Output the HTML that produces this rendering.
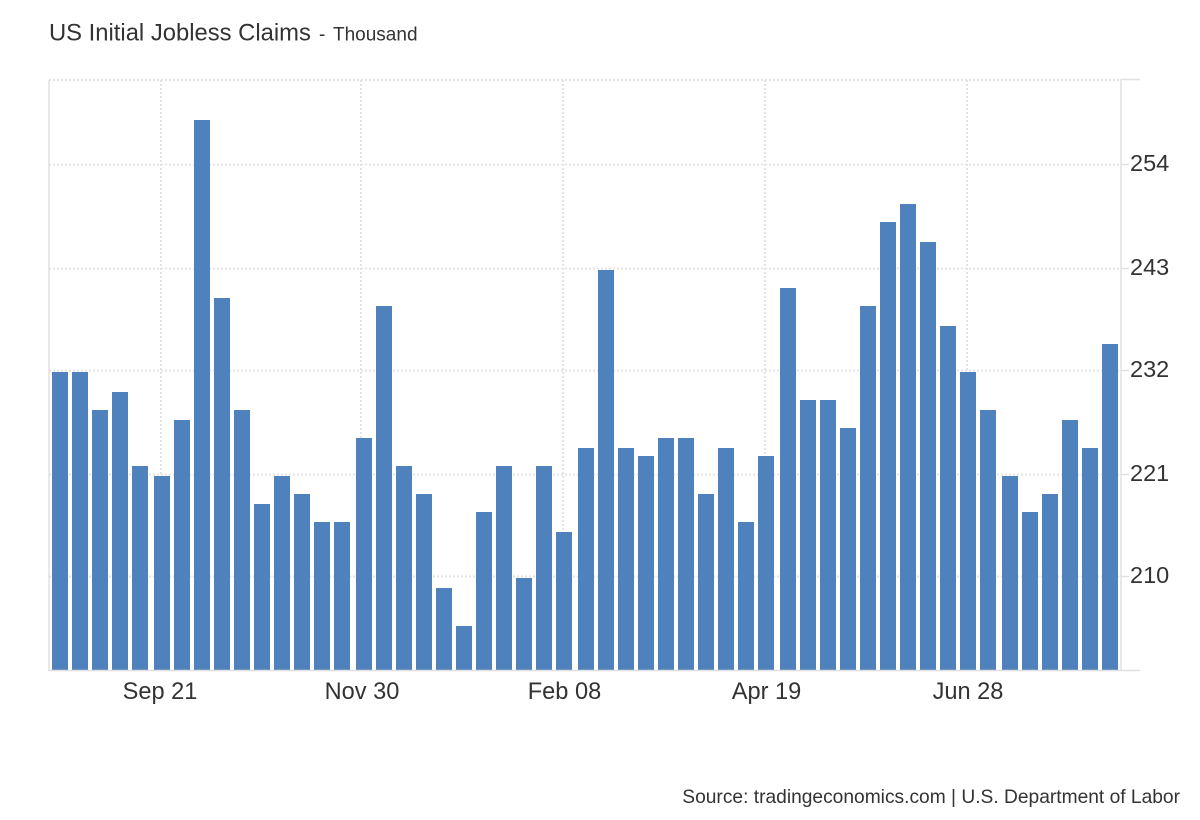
<!DOCTYPE html>
<html>
<head>
<meta charset="utf-8">
<style>
  html, body { margin: 0; padding: 0; background: #ffffff; }
  svg { display: block; }
  text { font-family: "Liberation Sans", Arial, sans-serif; }
</style>
</head>
<body>
<svg width="1200" height="820" viewBox="0 0 1200 820" xmlns="http://www.w3.org/2000/svg">
  <rect x="0" y="0" width="1200" height="820" fill="#ffffff"/>

  <text x="49" y="40.5" font-size="23.8" fill="#333333">US Initial Jobless Claims</text>
  <text x="319" y="40.5" font-size="19" fill="#333333">-</text>
  <text x="333" y="40.5" font-size="19" fill="#333333">Thousand</text>

  <g stroke="#e3e3e3" stroke-width="2" stroke-dasharray="2,2" fill="none">
    <line x1="49" y1="80" x2="1121" y2="80"/>
    <line x1="49" y1="164.5" x2="1121" y2="164.5"/>
    <line x1="49" y1="268.5" x2="1121" y2="268.5"/>
    <line x1="49" y1="370.5" x2="1121" y2="370.5"/>
    <line x1="49" y1="474.5" x2="1121" y2="474.5"/>
    <line x1="49" y1="576.5" x2="1121" y2="576.5"/>
    <line x1="161" y1="80" x2="161" y2="670"/>
    <line x1="361" y1="80" x2="361" y2="670"/>
    <line x1="563" y1="80" x2="563" y2="670"/>
    <line x1="765" y1="80" x2="765" y2="670"/>
    <line x1="967" y1="80" x2="967" y2="670"/>
  </g>

  <g fill="#4f81bd">
    <rect x="52" y="372" width="16" height="298"/>
    <rect x="72" y="372" width="16" height="298"/>
    <rect x="92" y="410" width="16" height="260"/>
    <rect x="112" y="392" width="16" height="278"/>
    <rect x="132" y="466" width="16" height="204"/>
    <rect x="154" y="476" width="16" height="194"/>
    <rect x="174" y="420" width="16" height="250"/>
    <rect x="194" y="120" width="16" height="550"/>
    <rect x="214" y="298" width="16" height="372"/>
    <rect x="234" y="410" width="16" height="260"/>
    <rect x="254" y="504" width="16" height="166"/>
    <rect x="274" y="476" width="16" height="194"/>
    <rect x="294" y="494" width="16" height="176"/>
    <rect x="314" y="522" width="16" height="148"/>
    <rect x="334" y="522" width="16" height="148"/>
    <rect x="356" y="438" width="16" height="232"/>
    <rect x="376" y="306" width="16" height="364"/>
    <rect x="396" y="466" width="16" height="204"/>
    <rect x="416" y="494" width="16" height="176"/>
    <rect x="436" y="588" width="16" height="82"/>
    <rect x="456" y="626" width="16" height="44"/>
    <rect x="476" y="512" width="16" height="158"/>
    <rect x="496" y="466" width="16" height="204"/>
    <rect x="516" y="578" width="16" height="92"/>
    <rect x="536" y="466" width="16" height="204"/>
    <rect x="556" y="532" width="16" height="138"/>
    <rect x="578" y="448" width="16" height="222"/>
    <rect x="598" y="270" width="16" height="400"/>
    <rect x="618" y="448" width="16" height="222"/>
    <rect x="638" y="456" width="16" height="214"/>
    <rect x="658" y="438" width="16" height="232"/>
    <rect x="678" y="438" width="16" height="232"/>
    <rect x="698" y="494" width="16" height="176"/>
    <rect x="718" y="448" width="16" height="222"/>
    <rect x="738" y="522" width="16" height="148"/>
    <rect x="758" y="456" width="16" height="214"/>
    <rect x="780" y="288" width="16" height="382"/>
    <rect x="800" y="400" width="16" height="270"/>
    <rect x="820" y="400" width="16" height="270"/>
    <rect x="840" y="428" width="16" height="242"/>
    <rect x="860" y="306" width="16" height="364"/>
    <rect x="880" y="222" width="16" height="448"/>
    <rect x="900" y="204" width="16" height="466"/>
    <rect x="920" y="242" width="16" height="428"/>
    <rect x="940" y="326" width="16" height="344"/>
    <rect x="960" y="372" width="16" height="298"/>
    <rect x="980" y="410" width="16" height="260"/>
    <rect x="1002" y="476" width="16" height="194"/>
    <rect x="1022" y="512" width="16" height="158"/>
    <rect x="1042" y="494" width="16" height="176"/>
    <rect x="1062" y="420" width="16" height="250"/>
    <rect x="1082" y="448" width="16" height="222"/>
    <rect x="1102" y="344" width="16" height="326"/>
  </g>

  <g stroke="#e0e0e0" stroke-width="1.5" fill="none">
    <line x1="49" y1="80" x2="49" y2="671"/>
    <line x1="1121" y1="79" x2="1121" y2="671"/>
    <line x1="49" y1="670.5" x2="1140" y2="670.5"/>
    <line x1="1121" y1="79.5" x2="1140" y2="79.5"/>
    <line x1="1121" y1="164.5" x2="1129" y2="164.5"/>
    <line x1="1121" y1="268.5" x2="1129" y2="268.5"/>
    <line x1="1121" y1="370.5" x2="1129" y2="370.5"/>
    <line x1="1121" y1="474.5" x2="1129" y2="474.5"/>
    <line x1="1121" y1="576.5" x2="1129" y2="576.5"/>
  </g>

  <g font-size="23.5" fill="#333333">
    <text x="1130" y="171">254</text>
    <text x="1130" y="275">243</text>
    <text x="1130" y="377">232</text>
    <text x="1130" y="481">221</text>
    <text x="1130" y="583">210</text>
  </g>

  <g font-size="23.6" fill="#333333" text-anchor="middle">
    <text x="160" y="699">Sep 21</text>
    <text x="362" y="699">Nov 30</text>
    <text x="564.5" y="699">Feb 08</text>
    <text x="766.5" y="699">Apr 19</text>
    <text x="968" y="699">Jun 28</text>
  </g>

  <text x="1180" y="803" font-size="19.2" fill="#333333" text-anchor="end">Source: tradingeconomics.com | U.S. Department of Labor</text>
</svg>
</body>
</html>
